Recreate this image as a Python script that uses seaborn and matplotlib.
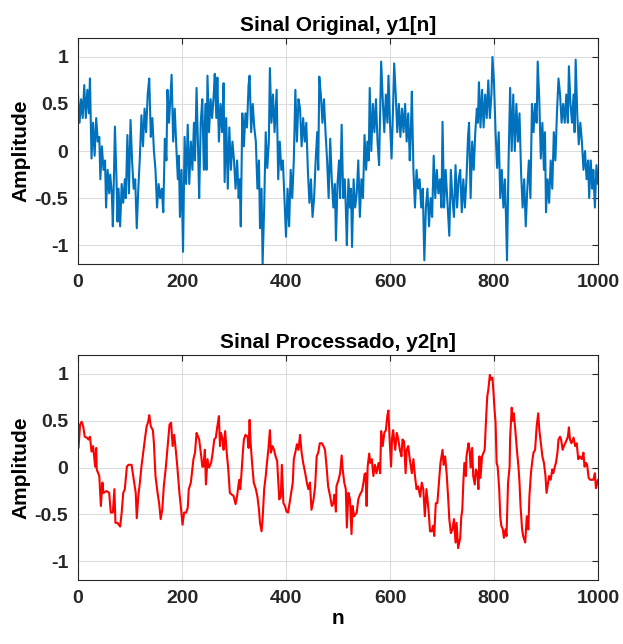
import numpy as np
import pandas as pd
import seaborn as sns
import matplotlib
matplotlib.use("Agg")
import matplotlib.pyplot as plt

# Sinal original y1[n]
n1 = [0, 3, 6, 9, 12, 15, 18, 21, 23, 26, 29, 32, 35, 38, 41, 43, 46, 49, 52, 54, 57, 60, 62, 65, 67, 69, 71, 74, 76, 78,
      81, 84, 87, 90, 92, 95, 98, 101, 104, 107, 110, 113, 116, 119, 122, 125, 128, 131, 134, 137, 140, 143, 146, 149, 152, 155, 158, 161, 164, 167,
      170, 172, 175, 178, 180, 183, 186, 189, 192, 194, 196, 199, 202, 205, 208, 211, 214, 217, 220, 223, 225, 228, 231, 233, 236, 239, 242, 245, 247, 249,
      252, 255, 258, 261, 263, 266, 268, 271, 274, 277, 280, 282, 285, 288, 291, 294, 297, 300, 303, 306, 309, 311, 313, 316, 319, 322, 325, 328, 330, 333,
      336, 339, 342, 345, 348, 350, 353, 355, 358, 361, 364, 367, 369, 372, 375, 378, 382, 385, 388, 391, 394, 397, 400, 403, 406, 409, 412, 415, 418, 421,
      424, 427, 430, 433, 436, 439, 442, 445, 448, 451, 454, 457, 460, 462, 464, 467, 470, 473, 476, 479, 482, 485, 488, 491, 494, 496, 499, 502, 504, 507,
      510, 513, 515, 517, 520, 523, 525, 527, 530, 533, 536, 539, 542, 545, 548, 551, 554, 557, 559, 561, 564, 567, 570, 573, 576, 579, 581, 583, 586, 589,
      592, 595, 597, 600, 603, 606, 608, 611, 614, 617, 620, 623, 626, 629, 632, 635, 638, 640, 642, 645, 648, 651, 654, 657, 660, 663, 666, 669, 672, 675,
      678, 681, 684, 687, 690, 693, 696, 699, 701, 704, 707, 710, 714, 717, 720, 723, 726, 729, 732, 735, 738, 741, 744, 747, 750, 752, 755, 758, 761, 764,
      767, 769, 771, 774, 777, 780, 783, 786, 789, 792, 795, 797, 800, 803, 806, 809, 812, 815, 818, 821, 823, 825, 828, 831, 834, 837, 840, 843, 846, 849,
      852, 855, 858, 861, 864, 867, 870, 873, 876, 879, 882, 884, 887, 890, 893, 896, 898, 900, 903, 906, 909, 912, 915, 918, 921, 924, 927, 930, 933, 936,
      939, 942, 944, 947, 950, 953, 955, 957, 960, 963, 966, 969, 972, 975, 978, 981, 983, 986, 989, 991, 994, 997, 1000]
y1 = [0.6, 0.3, 0.55, 0.35, 0.7, 0.35, 0.65, 0.4, 0.77, -0.08, 0.3, -0.05, 0.35, 0.1, 0.15, -0.3, 0.05, -0.2, -0.1, -0.6, -0.2, -0.45, -0.25, -0.45, -0.8, -0.3, 0.26, -0.3, -0.75, -0.4,
      -0.8, -0.35, -0.55, -0.3, -0.5, 0.17, -0.45, 0.33, -0.1, -0.4, -0.3, -0.82, -0.4, -0.06, 0.38, 0.05, 0.45, 0.2, 0.6, 0.77, 0.15, 0.35, 0.0, -0.2, -0.6, -0.35, -0.5, -0.4, -0.65, 0.13,
      -0.1, 0.65, 0.3, 0.6, 0.81, 0.1, 0.45, 0.05, -0.3, -0.05, -0.7, -0.2, -1.07, 0.15, -0.35, 0.28, -0.35, 0.1, -0.2, 0.3, -0.1, 0.67, 0.0, -0.5, 0.3, 0.55, -0.2, 0.5, -0.2, 0.8,
      0.2, 0.55, 0.35, 0.6, 0.82, 0.35, 0.78, 0.1, 0.5, 0.2, 0.72, -0.33, 0.35, -0.4, 0.25, -0.2, 0.1, -0.1, -0.4, -0.1, -0.5, -0.3, -0.8, 0.4, 0.05, 0.4, 0.25, 0.7, 0.8, 0.2,
      0.5, 0.25, 0.1, -0.4, -0.1, -0.82, -0.4, -1.2, -0.6, 0.2, -0.18, 0.1, 0.88, 0.3, 0.6, 0.2, 0.65, -0.3, 0.1, -0.2, -0.1, -0.5, -0.91, -0.4, -0.8, -0.2, -0.5, -0.1, 0.65, 0.1,
      0.55, 0.45, 0.05, 0.35, 0.1, 0.3, -0.2, -0.55, -0.3, -0.7, -0.5, -0.1, 0.2, -0.2, 0.79, 0.6, 0.3, 0.55, 0.2, -0.1, -0.5, 0.13, -0.3, -0.6, -0.35, -0.95, -0.35, -0.1, -0.5, 0.28,
      -0.5, -0.3, -0.6, -1.0, -0.3, -0.6, -0.4, -1.02, -0.3, -0.6, -0.45, -0.1, -0.7, -0.3, -0.5, 0.17, -0.2, 0.1, -0.1, 0.67, 0.0, 0.5, 0.2, 0.55, 0.1, -0.15, 0.4, 0.95, 0.55, 0.2,
      0.6, 0.3, 0.8, 0.3, -0.08, 0.5, 0.93, 0.6, 0.2, 0.5, 0.15, 0.45, 0.2, 0.5, 0.1, 0.4, -0.1, 0.2, 0.63, -0.2, -0.6, -0.2, -0.4, -0.3, -0.6, -0.4, -1.16, -0.6, -0.4, -0.8,
      -0.5, -0.7, -0.05, -0.5, -0.2, -0.45, -0.3, -0.6, 0.31, -0.6, -0.2, -0.5, -0.9, -0.2, -0.5, -0.7, -0.15, -0.6, -0.3, -0.2, -0.65, -0.3, -0.6, -0.3, 0.15, 0.3, -0.5, 0.1, -0.2, 0.2,
      0.45, 0.3, 0.73, 0.25, 0.65, 0.25, 0.6, 0.35, 0.75, 0.35, 0.6, 1.0, 0.72, 0.2, -0.18, 0.2, -0.5, -0.2, -0.6, -0.3, -0.7, -1.16, -0.1, 0.67, 0.0, 0.6, 0.0, 0.5, 0.1, 0.4,
      -0.22, -0.6, -0.3, -0.8, -0.4, -0.1, -0.5, 0.5, 0.2, 0.5, 0.3, 0.95, 0.55, -0.08, 0.3, -0.2, 0.2, -0.65, -0.3, -0.55, -0.1, -0.4, 0.2, -0.1, 0.4, 0.77, 0.6, 0.3, 0.5, 0.3,
      0.6, 0.3, 0.9, 0.5, 0.3, 0.6, 0.2, 0.97, 0.4, 0.07, 0.3, 0.1, -0.2, 0.0, -0.3, -0.1, -0.5, -0.1, -0.4, -0.2, -0.6, -0.15, -0.35]

# Sinal processado y2[n]
n2 = [1, 4, 7, 10, 13, 17, 20, 23, 26, 29, 33, 35, 36, 41, 44, 47, 49, 55, 60, 63, 67, 70, 72, 76, 81, 84, 87, 90, 94, 97,
      103, 108, 111, 113, 116, 119, 122, 126, 129, 132, 135, 137, 140, 144, 146, 149, 153, 156, 159, 162, 165, 169, 174, 176, 179, 182, 185, 188, 191, 195,
      198, 201, 204, 208, 211, 213, 217, 219, 222, 225, 228, 231, 233, 237, 239, 241, 244, 246, 249, 252, 256, 259, 262, 265, 268, 271, 273, 275, 278, 280,
      283, 286, 289, 292, 296, 299, 303, 306, 310, 312, 314, 317, 319, 322, 326, 328, 330, 332, 335, 338, 342, 345, 348, 350, 353, 355, 358, 361, 363, 366,
      369, 371, 374, 377, 380, 383, 387, 390, 392, 395, 398, 401, 404, 408, 410, 413, 415, 419, 421, 424, 427, 430, 433, 437, 440, 443, 446, 449, 453, 456,
      459, 462, 465, 469, 472, 475, 478, 481, 485, 488, 491, 493, 496, 497, 501, 504, 507, 509, 512, 515, 517, 520, 523, 526, 528, 531, 536, 539, 542, 546,
      549, 551, 553, 555, 557, 560, 562, 565, 568, 571, 574, 578, 581, 583, 586, 589, 592, 595, 597, 599, 602, 604, 606, 610, 613, 616, 619, 622, 624, 627,
      630, 632, 635, 638, 642, 645, 648, 651, 654, 658, 661, 664, 667, 670, 674, 677, 680, 683, 685, 688, 691, 694, 697, 701, 703, 706, 709, 712, 714, 717,
      720, 723, 726, 728, 731, 735, 737, 739, 741, 743, 746, 747, 751, 753, 755, 758, 760, 763, 765, 768, 770, 772, 774, 777, 780, 782, 785, 787, 789, 792,
      794, 797, 799, 801, 803, 805, 807, 810, 812, 814, 817, 819, 822, 824, 827, 830, 831, 834, 836, 838, 841, 844, 847, 849, 851, 854, 856, 860, 863, 866,
      868, 871, 874, 876, 879, 882, 885, 887, 890, 893, 896, 899, 901, 904, 906, 909, 912, 914, 917, 919, 922, 924, 927, 929, 932, 935, 937, 940, 942, 944,
      946, 949, 953, 956, 959, 962, 965, 969, 972, 974, 977, 979, 982, 985, 988, 991, 994, 996, 1000]
y2 = [0.21, 0.46, 0.49, 0.44, 0.33, 0.32, 0.30, 0.33, 0.17, 0.23, 0.01, 0.21, -0.02, -0.09, -0.41, -0.16, -0.27, -0.25, -0.27, -0.48, -0.48, -0.23, -0.59, -0.59, -0.63, -0.48, -0.27, -0.23, 0.01, 0.03,
      0.03, -0.16, -0.27, -0.54, -0.3, -0.16, 0.01, 0.19, 0.32, 0.44, 0.49, 0.56, 0.44, 0.40, 0.26, -0.09, -0.27, -0.38, -0.55, -0.45, -0.2, 0.01, 0.33, 0.46, 0.48, 0.23, 0.35, 0.19, 0.01, -0.27,
      -0.43, -0.61, -0.48, -0.48, -0.43, -0.23, -0.16, -0.06, 0.09, 0.16, 0.37, 0.33, 0.30, 0.12, 0.01, 0.01, 0.19, -0.18, 0.09, 0.0, 0.05, 0.16, 0.30, 0.32, 0.44, 0.55, 0.23, 0.37, 0.30, 0.19,
      0.39, 0.16, -0.02, -0.27, -0.29, -0.3, -0.39, -0.3, -0.13, -0.23, -0.09, 0.16, 0.30, 0.35, 0.33, 0.21, 0.51, 0.26, 0.03, -0.16, -0.23, -0.31, -0.45, -0.59, -0.68, -0.55, -0.23, -0.09, 0.03, 0.19,
      0.40, 0.16, 0.23, 0.19, 0.12, 0.07, -0.34, -0.31, 0.03, -0.38, -0.41, -0.47, -0.48, -0.34, -0.27, -0.16, 0.09, 0.19, 0.25, 0.19, 0.35, 0.16, 0.05, -0.06, -0.16, -0.23, -0.16, -0.45, -0.34, -0.2,
      0.12, 0.16, 0.26, 0.26, 0.23, 0.19, 0.01, -0.2, -0.31, -0.41, -0.38, -0.29, -0.47, -0.2, -0.13, -0.06, 0.13, -0.02, -0.16, -0.23, -0.64, -0.27, -0.34, -0.71, -0.41, -0.52, -0.48, -0.34, -0.29, -0.25,
      -0.16, -0.07, -0.06, -0.41, 0.01, 0.15, 0.05, 0.09, -0.09, 0.03, -0.06, 0.05, -0.06, 0.39, 0.23, 0.37, 0.40, 0.56, 0.61, 0.33, 0.01, 0.32, 0.40, 0.19, 0.37, 0.30, 0.19, 0.12, 0.30, 0.28,
      -0.06, 0.19, 0.23, 0.09, -0.06, 0.09, -0.09, -0.23, -0.2, -0.31, -0.16, -0.23, -0.52, -0.23, -0.45, -0.68, -0.68, -0.62, -0.73, -0.38, -0.38, -0.16, 0.05, 0.19, 0.03, 0.12, -0.07, -0.34, -0.55, -0.70,
      -0.66, -0.55, -0.80, -0.59, -0.86, -0.75, -0.53, -0.45, -0.16, 0.05, -0.09, 0.12, 0.26, 0.19, 0.0, 0.21, -0.09, -0.18, -0.02, -0.06, -0.23, 0.12, -0.11, 0.12, 0.16, 0.19, 0.55, 0.76, 0.83, 0.99,
      0.94, 0.96, 0.80, 0.62, 0.48, 0.05, 0.01, -0.23, -0.52, -0.62, -0.66, -0.75, -0.66, -0.73, -0.16, 0.01, 0.32, 0.64, 0.5, 0.58, 0.40, 0.19, 0.01, -0.16, -0.41, -0.66, -0.73, -0.80, -0.52, -0.66,
      -0.31, -0.06, 0.09, 0.16, 0.19, 0.44, 0.58, 0.41, 0.26, 0.12, 0.05, -0.09, -0.27, -0.16, -0.09, -0.13, -0.02, -0.06, 0.01, 0.05, 0.16, 0.30, 0.33, 0.30, 0.19, 0.24, 0.26, 0.30, 0.33, 0.43,
      0.30, 0.26, 0.32, 0.23, 0.26, 0.09, 0.12, 0.09, 0.16, 0.01, 0.05, 0.03, -0.11, -0.13, -0.13, -0.13, -0.06, -0.22, -0.13]

xticks = [0, 200, 400, 600, 800, 1000]
yticks = [-1, -0.5, 0, 0.5, 1]
yticklabels = ["-1", "-0.5", "0", "0.5", "1"]

sns.set_style("white")
plt.rcParams["font.family"] = ["Liberation Sans", "DejaVu Sans"]
plt.rcParams["font.weight"] = "bold"

fig = plt.figure(figsize=(6.23, 6.44), dpi=100)
ax1 = fig.add_axes([0.1252, 0.590, 0.8347, 0.351])
ax2 = fig.add_axes([0.1252, 0.0994, 0.8347, 0.349])

d1 = pd.DataFrame({"n": n1, "y": y1})
d2 = pd.DataFrame({"n": n2, "y": y2})
sns.lineplot(data=d1, x="n", y="y", ax=ax1, color="#0072BD", linewidth=1.5, estimator=None, sort=False)
sns.lineplot(data=d2, x="n", y="y", ax=ax2, color="#FF0000", linewidth=1.5, estimator=None, sort=False)

for ax, title in [(ax1, "Sinal Original, y1[n]"), (ax2, "Sinal Processado, y2[n]")]:
    ax.set_xlim(0, 1000)
    ax.set_ylim(-1.2, 1.2)
    ax.set_xticks(xticks)
    ax.set_yticks(yticks)
    ax.set_yticklabels(yticklabels)
    ax.grid(True, color="#dcdcdc", linewidth=0.8)
    ax.set_axisbelow(True)
    ax.tick_params(direction="in", length=4, width=0.8, top=True, right=True,
                   labelsize=14, colors="#262626", pad=7)
    for lab in ax.get_xticklabels() + ax.get_yticklabels():
        lab.set_fontweight("bold")
    for s in ax.spines.values():
        s.set_color("#262626")
        s.set_linewidth(0.8)
    ax.set_title(title, fontsize=15, fontweight="bold", color="black", pad=5)
    ax.set_ylabel("Amplitude", fontsize=15, fontweight="bold", color="black", labelpad=3)
    ax.set_xlabel("")

ax2.set_xlabel("n", fontsize=15, fontweight="bold", color="black", labelpad=2)

fig.savefig("out.png", dpi=100, facecolor="white")
